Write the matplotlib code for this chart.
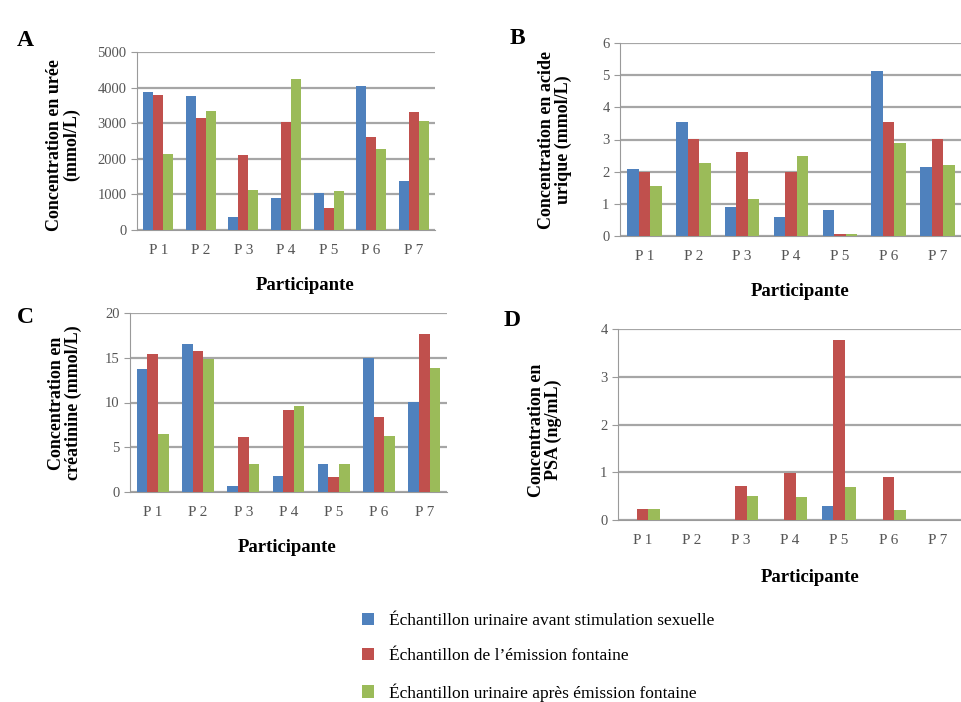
import matplotlib
matplotlib.use("Agg")
import matplotlib.pyplot as plt
import numpy as np
from matplotlib.patches import Patch

# --- DATA ---
participants = ["P 1", "P 2", "P 3", "P 4", "P 5", "P 6", "P 7"]
series_names = [
    "Échantillon urinaire avant stimulation sexuelle",
    "Échantillon de l’émission fontaine",
    "Échantillon urinaire après émission fontaine",
]

uree_avant = [3870, 3760, 360, 900, 1040, 4050, 1380]
uree_fontaine = [3790, 3140, 2120, 3040, 620, 2600, 3310]
uree_apres = [2130, 3330, 1120, 4230, 1100, 2270, 3050]

urique_avant = [2.08, 3.53, 0.9, 0.6, 0.82, 5.12, 2.15]
urique_fontaine = [2.0, 3.01, 2.62, 2.0, 0.05, 3.53, 3.01]
urique_apres = [1.56, 2.26, 1.15, 2.48, 0.05, 2.9, 2.2]

creat_avant = [13.7, 16.5, 0.7, 1.8, 3.1, 15.0, 10.1]
creat_fontaine = [15.4, 15.7, 6.2, 9.2, 1.7, 8.4, 17.6]
creat_apres = [6.5, 14.9, 3.1, 9.6, 3.1, 6.3, 13.9]

psa_avant = [0, 0, 0, 0, 0.29, 0, 0]
psa_fontaine = [0.22, 0, 0.72, 0.98, 3.78, 0.9, 0]
psa_apres = [0.22, 0, 0.5, 0.49, 0.7, 0.2, 0]

COLORS = ["#4F81BD", "#C0504D", "#9BBB59"]
W, H = 962, 702
SERIF = "Liberation Serif"

fig = plt.figure(figsize=(W / 100, H / 100), dpi=100)


def px_axes(left, top, right, bottom):
    return fig.add_axes([left / W, 1 - bottom / H, (right - left) / W, (bottom - top) / H])


def draw_panel(box, data, ymax, ystep, letter, letter_xy, ylabel, ylabel_xy, xlabel_xy):
    ax = px_axes(*box)
    x = np.arange(len(participants))
    bw = 0.235
    for i, vals in enumerate(data):
        ax.bar(x + (i - 1) * bw, vals, width=bw, color=COLORS[i], zorder=3)
    ax.set_xlim(-0.5, len(participants) - 0.5)
    ax.set_ylim(0, ymax)
    ax.set_yticks(np.arange(0, ymax + ystep / 2, ystep))
    ax.set_xticks(x)
    ax.set_xticklabels(participants)
    ax.grid(axis="y", color="#a6a6a6", linewidth=1.6, zorder=0)
    for s in ["top", "right"]:
        ax.spines[s].set_visible(False)
    ax.spines["left"].set_color("#9a9a9a")
    ax.spines["bottom"].set_color("#9a9a9a")
    ax.tick_params(axis="y", colors="#9a9a9a", labelcolor="#555555", length=4, labelsize=10.5)
    ax.tick_params(axis="x", length=0, labelcolor="#555555", labelsize=11, pad=10)
    for lab in ax.get_xticklabels() + ax.get_yticklabels():
        lab.set_fontfamily(SERIF)
    fig.text(letter_xy[0] / W, 1 - letter_xy[1] / H, letter, fontsize=17,
             fontweight="bold", family=SERIF, ha="center", va="center")
    fig.text(ylabel_xy[0] / W, 1 - ylabel_xy[1] / H, ylabel, rotation=90, fontsize=13,
             fontweight="bold", family=SERIF, ha="center", va="center", linespacing=1.05)
    fig.text(xlabel_xy[0] / W, 1 - xlabel_xy[1] / H, "Participante", fontsize=13.5,
             fontweight="bold", family=SERIF, ha="center", va="center")
    return ax


draw_panel((137, 52, 435, 230), [uree_avant, uree_fontaine, uree_apres], 5000, 1000,
           "A", (25, 40), "Concentration en urée\n(mmol/L)", (63, 145), (305, 285))
draw_panel((620, 43, 962, 236), [urique_avant, urique_fontaine, urique_apres], 6, 1,
           "B", (517, 38), "Concentration en acide\nurique (mmol/L)", (555, 140), (800, 292))
draw_panel((130, 313, 447, 492), [creat_avant, creat_fontaine, creat_apres], 20, 5,
           "C", (25, 318), "Concentration en\ncréatinine (mmol/L)", (65, 403), (287, 547))
draw_panel((618, 329, 962, 520), [psa_avant, psa_fontaine, psa_apres], 4, 1,
           "D", (512, 320), "Concentration en\nPSA (ng/mL)", (545, 430), (810, 578))

handles = [Patch(facecolor=c) for c in COLORS]
fig.legend(handles, series_names, loc="upper left", bbox_to_anchor=(346 / W, 1 - 597 / H),
           frameon=False, prop={"family": SERIF, "size": 12.5}, labelspacing=1.1,
           handlelength=0.7, handleheight=0.7, handletextpad=0.9)

fig.savefig("out.png", dpi=100)
